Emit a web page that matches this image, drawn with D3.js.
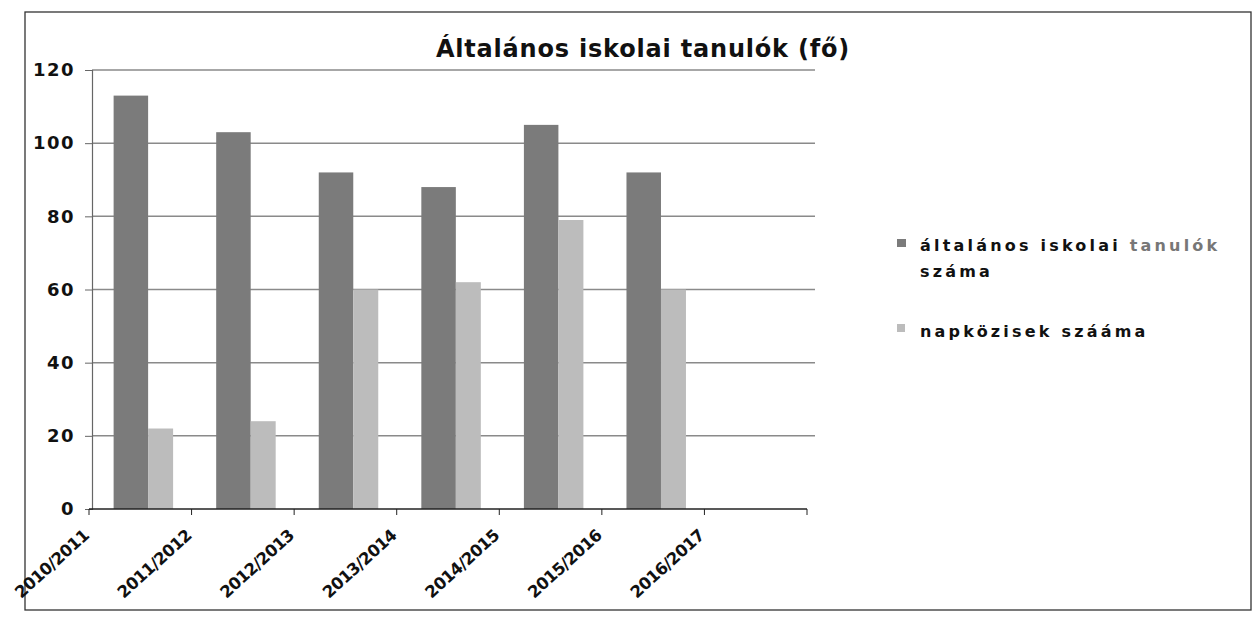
<!DOCTYPE html>
<html>
<head>
<meta charset="utf-8">
<script src="https://cdn.jsdelivr.net/npm/d3@7"></script>
<style>
  body { margin: 0; background: #fff; }
  svg { display: block; }
</style>
</head>
<body>
<svg id="chart" width="1255" height="618"></svg>
<script>
// data
const years = ["2010/2011", "2011/2012", "2012/2013", "2013/2014", "2014/2015", "2015/2016", "2016/2017"];
const tanulok = [113, 103, 92, 88, 105, 92, null];
const napkozisek = [22, 24, 60, 62, 79, 60, null];
const seriesNames = ["általános iskolai tanulók száma", "napközisek szááma"];
const yTicks = [0, 20, 40, 60, 80, 100, 120];

let svg = d3.select("#chart");

// plot area
let plotLeft = 89, plotRight = 807, plotTop = 70, plotBottom = 509;

let x = d3.scaleBand().domain(years).range([plotLeft, plotRight]).padding(0);
let y = d3.scaleLinear().domain([0, 120]).range([plotBottom, plotTop]);

// sub-scale for the two bars inside each year
let x1 = d3.scaleBand().domain([0, 1]).range([0.24 * x.bandwidth(), 0.82 * x.bandwidth()]);
let colors = ["#7b7b7b", "#bcbcbc"];

// outer frame
svg.append("rect")
  .attr("x", 25).attr("y", 12)
  .attr("width", 1226).attr("height", 598)
  .attr("fill", "none")
  .attr("stroke", "#333")
  .attr("stroke-width", 1.3);

// gridlines
svg.append("g")
  .selectAll("line")
  .data(yTicks.filter(d => d > 0))
  .enter()
  .append("line")
  .attr("x1", plotLeft + 3)
  .attr("x2", plotRight + 8)
  .attr("y1", d => y(d))
  .attr("y2", d => y(d))
  .attr("stroke", "#8a8a8a")
  .attr("stroke-width", 1.5);

// y axis
let yAxis = svg.append("g")
  .attr("transform", "translate(" + (plotLeft + 3) + ",0)")
  .call(d3.axisLeft(y).tickValues(yTicks).tickSize(7).tickPadding(10));
yAxis.select(".domain").attr("stroke", "#666").attr("stroke-width", 1.2);
yAxis.selectAll(".tick line").attr("stroke", "#666");
yAxis.selectAll("text")
  .attr("font-family", "DejaVu Sans")
  .attr("font-weight", "bold")
  .attr("font-size", 18)
  .attr("letter-spacing", 1.5)
  .attr("fill", "#111");

// bars
let groups = svg.append("g")
  .selectAll("g")
  .data(years.map((yr, i) => ({ year: yr, vals: [tanulok[i], napkozisek[i]] })))
  .enter()
  .append("g")
  .attr("transform", d => "translate(" + x(d.year) + ",0)");

groups.selectAll("rect")
  .data(d => d.vals.map((v, k) => ({ k: k, v: v })).filter(d => d.v != null))
  .enter()
  .append("rect")
  .attr("x", d => d.k === 0 ? x1(0) : x1(0) + x1.bandwidth() * 1.16)
  .attr("width", d => d.k === 0 ? x1.bandwidth() * 1.16 : x1.bandwidth() * 0.84)
  .attr("y", d => y(d.v))
  .attr("height", d => y(0) - y(d.v))
  .attr("fill", d => colors[d.k]);

// x axis, ticks on category boundaries
let xAxis = svg.append("g").attr("transform", "translate(0," + plotBottom + ")");
xAxis.append("line")
  .attr("x1", plotLeft).attr("x2", plotRight)
  .attr("stroke", "#222").attr("stroke-width", 1.3);
let bounds = years.map(d => x(d)).concat([plotRight]);
xAxis.selectAll(".tk")
  .data(bounds)
  .enter()
  .append("line")
  .attr("x1", d => d).attr("x2", d => d)
  .attr("y1", 0).attr("y2", 6)
  .attr("stroke", "#222");
xAxis.selectAll("text")
  .data(years)
  .enter()
  .append("text")
  .attr("transform", d => "translate(" + (x(d) + 1) + ",28) rotate(-42)")
  .attr("text-anchor", "end")
  .attr("font-family", "DejaVu Sans")
  .attr("font-weight", "bold")
  .attr("font-size", 16.5)
  .attr("letter-spacing", -0.6)
  .attr("fill", "#111")
  .text(d => d);

// title
svg.append("text")
  .attr("x", 643).attr("y", 57)
  .attr("text-anchor", "middle")
  .attr("font-family", "DejaVu Sans")
  .attr("font-weight", "bold")
  .attr("font-size", 24)
  .attr("letter-spacing", 0.8)
  .attr("fill", "#111")
  .text("Általános iskolai tanulók (fő)");

// legend
let legend = svg.append("g")
  .attr("font-family", "DejaVu Sans")
  .attr("font-weight", "bold")
  .attr("font-size", 16)
  .attr("letter-spacing", 3.2)
  .attr("fill", "#111");
legend.append("rect").attr("x", 897).attr("y", 239).attr("width", 9).attr("height", 8).attr("fill", colors[0]);
let t1 = legend.append("text").attr("x", 920).attr("y", 251);
t1.append("tspan").text("általános iskolai ");
t1.append("tspan").attr("fill", "#777").text("tanulók");
legend.append("text").attr("x", 920).attr("y", 277).text("száma");
legend.append("rect").attr("x", 897).attr("y", 324).attr("width", 8).attr("height", 8).attr("fill", colors[1]);
legend.append("text").attr("x", 920).attr("y", 337).text(seriesNames[1]);
</script>
</body>
</html>
